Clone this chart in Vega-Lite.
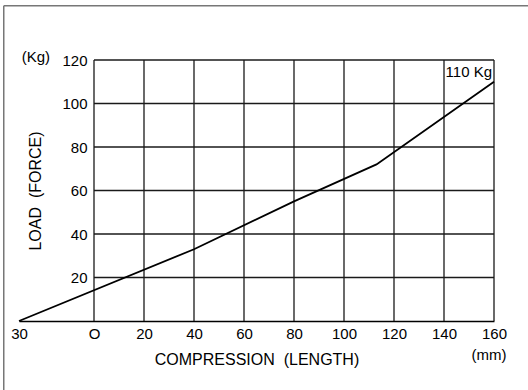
{
  "$schema": "https://vega.github.io/schema/vega-lite/v6.json",
  "width": 475,
  "height": 261,
  "autosize": {"type": "none"},
  "padding": {"left": 19, "top": 60, "right": 34, "bottom": 69},
  "background": "white",
  "config": {"view": {"stroke": null}, "font": "Liberation Sans"},
  "datasets": {
    "curve": [
      {"compression": -30, "load": 0},
      {"compression": 40, "load": 33},
      {"compression": 80, "load": 55},
      {"compression": 113, "load": 72},
      {"compression": 160, "load": 110}
    ],
    "vgrid": [{"gx": 0}, {"gx": 20}, {"gx": 40}, {"gx": 60}, {"gx": 80}, {"gx": 100}, {"gx": 120}, {"gx": 140}, {"gx": 160}],
    "hgrid": [{"gy": 20}, {"gy": 40}, {"gy": 60}, {"gy": 80}, {"gy": 100}, {"gy": 120}]
  },
  "layer": [
    {
      "data": {"name": "curve"},
      "mark": {"type": "line", "color": "black", "strokeWidth": 1.8, "opacity": 0},
      "encoding": {
        "x": {
          "field": "compression",
          "type": "quantitative",
          "scale": {"domain": [-30, 160], "nice": false, "zero": false},
          "axis": {
            "values": [-30, 0, 20, 40, 60, 80, 100, 120, 140, 160],
            "labelExpr": "datum.value == -30 ? '30' : datum.value == 0 ? 'O' : datum.label",
            "ticks": false,
            "grid": false,
            "domain": true,
            "domainColor": "black",
            "domainWidth": 1.5,
            "labelPadding": 5,
            "labelFontSize": 15,
            "labelColor": "black",
            "labelFlush": false,
            "labelOverlap": false,
            "title": "COMPRESSION\u00a0 (LENGTH)",
            "titleFontSize": 16,
            "titleFontWeight": "normal",
            "titleColor": "black",
            "titlePadding": 10
          }
        },
        "y": {
          "field": "load",
          "type": "quantitative",
          "scale": {"domain": [0, 120], "nice": false},
          "axis": {
            "values": [20, 40, 60, 80, 100, 120],
            "ticks": false,
            "grid": false,
            "domain": false,
            "offset": -75,
            "labelPadding": 7,
            "labelFontSize": 15,
            "labelColor": "black",
            "labelFlush": false,
            "labelOverlap": false,
            "title": "LOAD\u00a0 (FORCE)",
            "titleFontSize": 16,
            "titleFontWeight": "normal",
            "titleColor": "black",
            "titlePadding": 18
          }
        }
      }
    },
    {
      "data": {"name": "vgrid"},
      "mark": {"type": "rule", "color": "#1a1a1a", "strokeWidth": 1.3},
      "encoding": {
        "x": {"field": "gx", "type": "quantitative"},
        "y": {"datum": 0, "type": "quantitative"},
        "y2": {"datum": 120}
      }
    },
    {
      "data": {"name": "hgrid"},
      "mark": {"type": "rule", "color": "#1a1a1a", "strokeWidth": 1.3},
      "encoding": {
        "y": {"field": "gy", "type": "quantitative"},
        "x": {"datum": 0, "type": "quantitative"},
        "x2": {"datum": 160}
      }
    },
    {
      "data": {"values": [{}]},
      "mark": {"type": "rule", "color": "#777777", "strokeWidth": 1.5},
      "encoding": {
        "x": {"datum": -36.1, "type": "quantitative"},
        "y": {"datum": -40, "type": "quantitative"},
        "y2": {"datum": 145}
      }
    },
    {
      "data": {"values": [{}]},
      "mark": {"type": "rule", "color": "#777777", "strokeWidth": 1.5},
      "encoding": {
        "y": {"datum": 145, "type": "quantitative"},
        "x": {"datum": -36.1, "type": "quantitative"},
        "x2": {"datum": 185}
      }
    },
    {
      "data": {"values": [{}]},
      "mark": {"type": "text", "text": "(mm)", "fontSize": 15, "align": "center", "baseline": "middle", "color": "black"},
      "encoding": {
        "x": {"datum": 158, "type": "quantitative"},
        "y": {"datum": -15.6, "type": "quantitative"}
      }
    },
    {
      "data": {"values": [{}]},
      "mark": {"type": "text", "text": "(Kg)", "fontSize": 15, "align": "right", "baseline": "middle", "color": "black"},
      "encoding": {
        "x": {"datum": -17.6, "type": "quantitative"},
        "y": {"datum": 121.4, "type": "quantitative"}
      }
    },
    {
      "data": {"values": [{}]},
      "mark": {"type": "text", "text": "110 Kg", "fontSize": 15, "align": "right", "baseline": "middle", "color": "black"},
      "encoding": {
        "x": {"datum": 159.2, "type": "quantitative"},
        "y": {"datum": 114.5, "type": "quantitative"}
      }
    },
    {
      "data": {"name": "curve"},
      "mark": {"type": "line", "color": "black", "strokeWidth": 1.8},
      "encoding": {
        "x": {"field": "compression", "type": "quantitative"},
        "y": {"field": "load", "type": "quantitative"}
      }
    }
  ]
}
